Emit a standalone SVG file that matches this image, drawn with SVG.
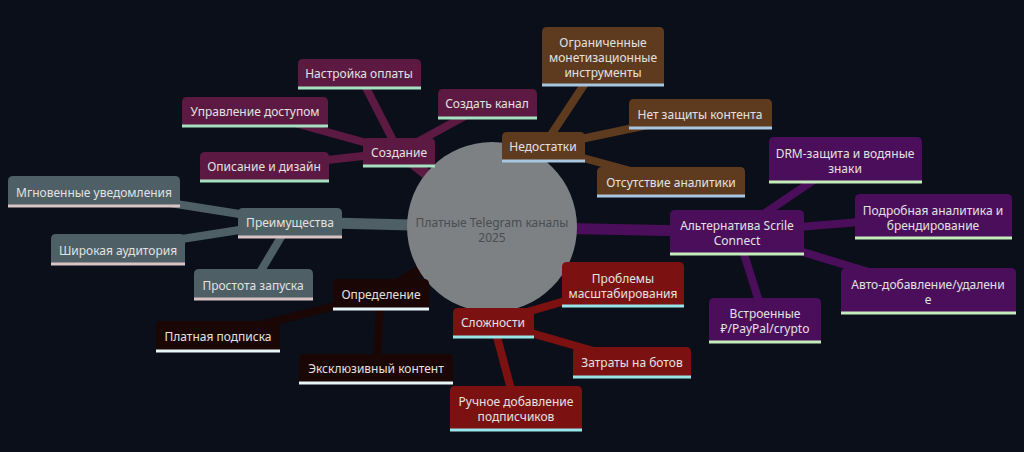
<svg xmlns="http://www.w3.org/2000/svg" width="1024" height="452" viewBox="0 0 1024 452">
<style>
text{font-family:"Noto Sans","DejaVu Sans",sans-serif;font-size:12px;fill:#e2e2e2;text-anchor:middle}
.e0{stroke-width:11;stroke-linecap:butt;fill:none}
.e1{stroke-width:8;stroke-linecap:butt;fill:none}
.ul{stroke-width:3}
.c0{fill:#5c1941}.l0{stroke:#a6e2c2}.k0{stroke:#5c1941}
.c1{fill:#5e3b1f}.l1{stroke:#a8c6df}.k1{stroke:#5e3b1f}
.c2{fill:#4e5f66}.l2{stroke:#d9c4c4}.k2{stroke:#4e5f66}
.c3{fill:#1b0606}.l3{stroke:#e8f6f8}.k3{stroke:#1b0606}
.c4{fill:#7b1111}.l4{stroke:#98e6ea}.k4{stroke:#7b1111}
.c5{fill:#4b0e5b}.l5{stroke:#c4ecbc}.k5{stroke:#4b0e5b}
</style>
<rect width="1024" height="452" fill="#0a0f19"/>
<g id="connectors">
<line class="e0 k0" x1="492" y1="227" x2="399" y2="152"/>
<line class="e0 k1" x1="492" y1="227" x2="543" y2="147"/>
<line class="e0 k2" x1="492" y1="227" x2="290" y2="222"/>
<line class="e0 k3" x1="492" y1="227" x2="381" y2="294"/>
<line class="e0 k4" x1="492" y1="227" x2="493" y2="322"/>
<line class="e0 k5" x1="492" y1="227" x2="737" y2="232"/>
<line class="e1 k0" x1="399" y1="152" x2="359" y2="74"/>
<line class="e1 k0" x1="399" y1="152" x2="487" y2="104"/>
<line class="e1 k0" x1="399" y1="152" x2="255" y2="112"/>
<line class="e1 k0" x1="399" y1="152" x2="264" y2="167"/>
<line class="e1 k1" x1="543" y1="147" x2="603" y2="56"/>
<line class="e1 k1" x1="543" y1="147" x2="700" y2="114"/>
<line class="e1 k1" x1="543" y1="147" x2="671" y2="182"/>
<line class="e1 k2" x1="290" y1="222" x2="94" y2="191"/>
<line class="e1 k2" x1="290" y1="222" x2="118" y2="249"/>
<line class="e1 k2" x1="290" y1="222" x2="253" y2="284"/>
<line class="e1 k3" x1="381" y1="294" x2="218" y2="336"/>
<line class="e1 k3" x1="381" y1="294" x2="376" y2="369"/>
<line class="e1 k4" x1="493" y1="322" x2="623" y2="284"/>
<line class="e1 k4" x1="493" y1="322" x2="632" y2="362"/>
<line class="e1 k4" x1="493" y1="322" x2="516" y2="408"/>
<line class="e1 k5" x1="737" y1="232" x2="845" y2="159"/>
<line class="e1 k5" x1="737" y1="232" x2="933" y2="216"/>
<line class="e1 k5" x1="737" y1="232" x2="928" y2="290"/>
<line class="e1 k5" x1="737" y1="232" x2="765" y2="320"/>
</g>
<g id="root">
<circle cx="492" cy="227" r="85" fill="#7d8184"/>
<text x="492" y="226.5" style="fill:#4a4e51">Платные Telegram каналы</text>
<text x="492" y="241.5" style="fill:#4a4e51">2025</text>
</g>
<g id="n-sozdanie">
<path class="c0" d="M363 166V143Q363 138 368 138H430Q435 138 435 143V166Z"/>
<line class="ul l0" x1="363" y1="166" x2="435" y2="166"/>
<text x="399" y="157">Создание</text>
</g>
<g id="n-nastroika">
<path class="c0" d="M298 88V64Q298 59 303 59H416Q421 59 421 64V88Z"/>
<line class="ul l0" x1="298" y1="88" x2="421" y2="88"/>
<text x="359" y="78">Настройка оплаты</text>
</g>
<g id="n-sozdat">
<path class="c0" d="M438 118V94Q438 89 443 89H532Q537 89 537 94V118Z"/>
<line class="ul l0" x1="438" y1="118" x2="537" y2="118"/>
<text x="487" y="108">Создать канал</text>
</g>
<g id="n-upravlenie">
<path class="c0" d="M182 126V102Q182 97 187 97H323Q328 97 328 102V126Z"/>
<line class="ul l0" x1="182" y1="126" x2="328" y2="126"/>
<text x="255" y="116">Управление доступом</text>
</g>
<g id="n-opisanie">
<path class="c0" d="M200 181V157Q200 152 205 152H324Q329 152 329 157V181Z"/>
<line class="ul l0" x1="200" y1="181" x2="329" y2="181"/>
<text x="264" y="171">Описание и дизайн</text>
</g>
<g id="n-nedostatki">
<path class="c1" d="M502 161V137Q502 132 507 132H580Q585 132 585 137V161Z"/>
<line class="ul l1" x1="502" y1="161" x2="585" y2="161"/>
<text x="543" y="151">Недостатки</text>
</g>
<g id="n-ogranichennye">
<path class="c1" d="M542 85V32Q542 27 547 27H659Q664 27 664 32V85Z"/>
<line class="ul l1" x1="542" y1="85" x2="664" y2="85"/>
<text x="603" y="47">Ограниченные</text>
<text x="603" y="62">монетизационные</text>
<text x="603" y="77">инструменты</text>
</g>
<g id="n-net-zashity">
<path class="c1" d="M629 128V104Q629 99 634 99H767Q772 99 772 104V128Z"/>
<line class="ul l1" x1="629" y1="128" x2="772" y2="128"/>
<text x="700" y="119">Нет защиты контента</text>
</g>
<g id="n-otsutstvie">
<path class="c1" d="M597 196V172Q597 167 602 167H740Q745 167 745 172V196Z"/>
<line class="ul l1" x1="597" y1="196" x2="745" y2="196"/>
<text x="671" y="187">Отсутствие аналитики</text>
</g>
<g id="n-preimushestva">
<path class="c2" d="M238 237V213Q238 208 243 208H337Q342 208 342 213V237Z"/>
<line class="ul l2" x1="238" y1="237" x2="342" y2="237"/>
<text x="290" y="227">Преимущества</text>
</g>
<g id="n-mgnovennye">
<path class="c2" d="M8 206V181Q8 176 13 176H175Q180 176 180 181V206Z"/>
<line class="ul l2" x1="8" y1="206" x2="180" y2="206"/>
<text x="94" y="197">Мгновенные уведомления</text>
</g>
<g id="n-shirokaya">
<path class="c2" d="M51 264V239Q51 234 56 234H180Q185 234 185 239V264Z"/>
<line class="ul l2" x1="51" y1="264" x2="185" y2="264"/>
<text x="118" y="255">Широкая аудитория</text>
</g>
<g id="n-prostota">
<path class="c2" d="M194 299V274Q194 269 199 269H308Q313 269 313 274V299Z"/>
<line class="ul l2" x1="194" y1="299" x2="313" y2="299"/>
<text x="253" y="290">Простота запуска</text>
</g>
<g id="n-opredelenie">
<path class="c3" d="M333 309V284Q333 279 338 279H424Q429 279 429 284V309Z"/>
<line class="ul l3" x1="333" y1="309" x2="429" y2="309"/>
<text x="381" y="299">Определение</text>
</g>
<g id="n-platnaya">
<path class="c3" d="M156 351V326Q156 321 161 321H275Q280 321 280 326V351Z"/>
<line class="ul l3" x1="156" y1="351" x2="280" y2="351"/>
<text x="218" y="341">Платная подписка</text>
</g>
<g id="n-eksklyuzivny">
<path class="c3" d="M299 383V359Q299 354 304 354H448Q453 354 453 359V383Z"/>
<line class="ul l3" x1="299" y1="383" x2="453" y2="383"/>
<text x="376" y="373">Эксклюзивный контент</text>
</g>
<g id="n-slozhnosti">
<path class="c4" d="M453 337V313Q453 308 458 308H529Q534 308 534 313V337Z"/>
<line class="ul l4" x1="453" y1="337" x2="534" y2="337"/>
<text x="493" y="327">Сложности</text>
</g>
<g id="n-problemy">
<path class="c4" d="M562 306V267Q562 262 567 262H679Q684 262 684 267V306Z"/>
<line class="ul l4" x1="562" y1="306" x2="684" y2="306"/>
<text x="623" y="282.5">Проблемы</text>
<text x="623" y="297.5">масштабирования</text>
</g>
<g id="n-zatraty">
<path class="c4" d="M573 377V352Q573 347 578 347H686Q691 347 691 352V377Z"/>
<line class="ul l4" x1="573" y1="377" x2="691" y2="377"/>
<text x="632" y="367">Затраты на ботов</text>
</g>
<g id="n-ruchnoe">
<path class="c4" d="M450 430V391Q450 386 455 386H577Q582 386 582 391V430Z"/>
<line class="ul l4" x1="450" y1="430" x2="582" y2="430"/>
<text x="516" y="405.5">Ручное добавление</text>
<text x="516" y="420.5">подписчиков</text>
</g>
<g id="n-alternativa">
<path class="c5" d="M670 254V215Q670 210 675 210H799Q804 210 804 215V254Z"/>
<line class="ul l5" x1="670" y1="254" x2="804" y2="254"/>
<text x="737" y="229.5">Альтернатива Scrile</text>
<text x="737" y="244.5">Connect</text>
</g>
<g id="n-drm">
<path class="c5" d="M769 182V142Q769 137 774 137H917Q922 137 922 142V182Z"/>
<line class="ul l5" x1="769" y1="182" x2="922" y2="182"/>
<text x="845" y="157.5">DRM-защита и водяные</text>
<text x="845" y="172.5">знаки</text>
</g>
<g id="n-podrobnaya">
<path class="c5" d="M855 238V199Q855 194 860 194H1007Q1012 194 1012 199V238Z"/>
<line class="ul l5" x1="855" y1="238" x2="1012" y2="238"/>
<text x="933" y="214.5">Подробная аналитика и</text>
<text x="933" y="229.5">брендирование</text>
</g>
<g id="n-avto">
<path class="c5" d="M841 313V273Q841 268 846 268H1011Q1016 268 1016 273V313Z"/>
<line class="ul l5" x1="841" y1="313" x2="1016" y2="313"/>
<text x="928" y="288.5">Авто-добавление/удалени</text>
<text x="928" y="303.5">е</text>
</g>
<g id="n-vstroennye">
<path class="c5" d="M709 342V303Q709 298 714 298H816Q821 298 821 303V342Z"/>
<line class="ul l5" x1="709" y1="342" x2="821" y2="342"/>
<text x="765" y="317.5">Встроенные</text>
<text x="765" y="332.5">₽/PayPal/crypto</text>
</g>
</svg>
